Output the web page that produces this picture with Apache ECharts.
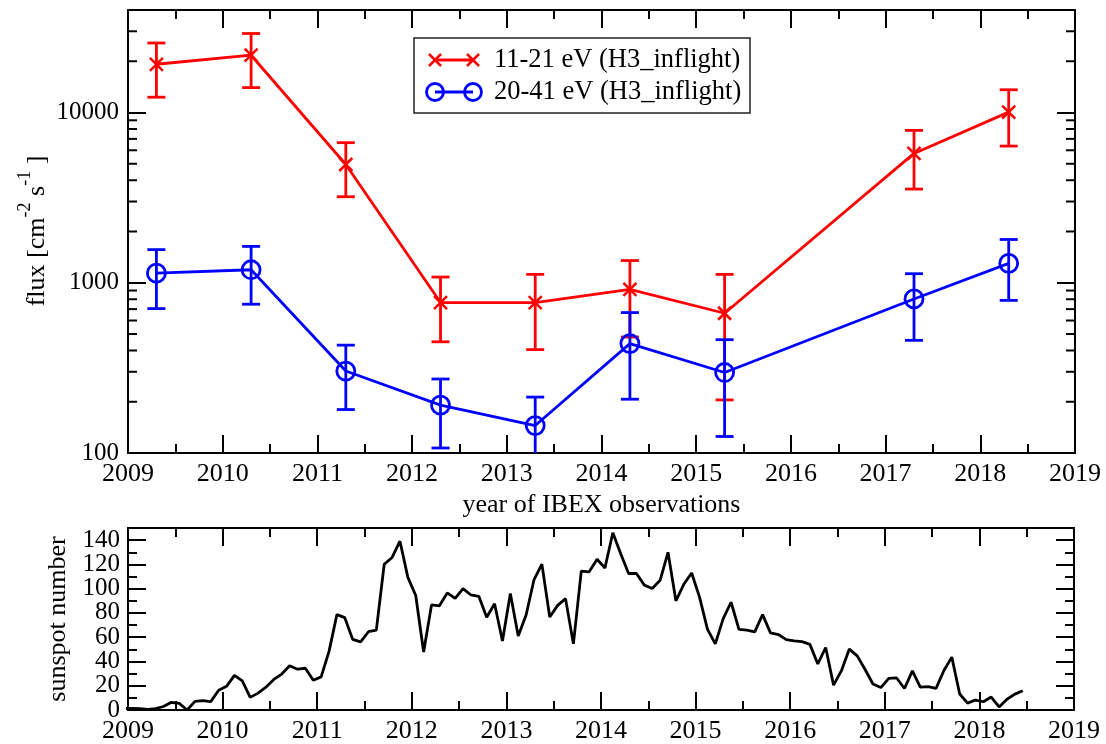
<!DOCTYPE html>
<html><head><meta charset="utf-8">
<script src="https://cdn.jsdelivr.net/npm/echarts@6/dist/echarts.min.js"></script>
<style>html,body{margin:0;padding:0;background:#fff}#c{width:1106px;height:744px}</style>
</head><body><div id="c"></div>
<script>
// ---- data ----
const obsYears  = [2009.3, 2010.3, 2011.3, 2012.3, 2013.3, 2014.3, 2015.3, 2017.3, 2018.3];
const redFlux   = [19200, 21700, 4950, 765, 765, 915, 662, 5750, 10050];
const redLow    = [12300, 14000, 3200, 450, 405, 480, 205, 3550, 6350];
const redHigh   = [25600, 29100, 6650, 1080, 1120, 1350, 1120, 7850, 13600];
const blueFlux  = [1138, 1192, 303, 191, 145, 439, 297, 803, 1300];
const blueLow   = [705, 748, 180, 107, 90, 207, 125, 459, 788];
const blueHigh  = [1565, 1635, 430, 272, 213, 668, 463, 1130, 1795];
const redName   = '11-21 eV (H3_inflight)';
const blueName  = '20-41 eV (H3_inflight)';
// monthly sunspot numbers, Dec 2008 .. Jun 2018 (plotted mid-month)
const sunspotStart = 2008 + 11.5 / 12;
const sunspot = [1.2,
  1.3, 1.2, 0.6, 1.2, 2.9, 6.3, 5.5, 0.0, 7.1, 7.7, 6.9, 16.3,
  19.5, 28.5, 24.0, 10.4, 13.9, 18.8, 25.2, 29.6, 36.4, 33.6, 34.4, 24.5,
  27.3, 48.3, 78.6, 76.1, 58.2, 56.1, 64.5, 65.8, 120.1, 125.7, 139.1, 109.3,
  94.4, 47.8, 86.6, 85.9, 96.5, 92.0, 100.1, 94.8, 93.7, 76.5, 87.6, 56.8,
  96.1, 60.9, 78.3, 107.3, 120.2, 76.7, 86.2, 91.8, 54.5, 114.4, 113.9, 124.2,
  117.0, 146.1, 128.7, 112.5, 112.5, 102.9, 100.2, 106.9, 130.0, 90.0, 103.6, 112.9,
  93.0, 66.7, 54.5, 75.3, 88.8, 66.5, 65.8, 64.4, 78.6, 63.6, 62.2, 58.0,
  57.0, 56.4, 54.1, 37.9, 51.5, 20.5, 32.4, 50.2, 44.6, 33.4, 21.4, 18.5,
  26.1, 26.4, 17.7, 32.3, 18.9, 19.2, 17.8, 32.6, 43.6, 13.2, 5.7, 8.2,
  6.8, 10.7, 2.5, 8.9, 13.1, 15.9];
const yearMin = 2009, yearMax = 2019;
const fluxMin = 100, fluxMax = 40000;
const logDecades = [100, 1000, 10000];
const ssMin = 0, ssMax = 150;

// ---- chart ----
const FONT = 'Liberation Serif';
const RED = '#ff0000', BLUE = '#0000ff';
const chart = echarts.init(document.getElementById('c'));

const logMinor = [];
logDecades.forEach(d => { for (let m = 2; m <= 9; m++) if (d * m < fluxMax) logMinor.push([yearMin, d * m]); });

const lineSt = {color: '#000', width: 2};
function xAx(grid, pos, labels, extra) {
  return Object.assign({
    type: 'value', gridIndex: grid, position: pos, min: yearMin, max: yearMax, interval: 1,
    axisLine: {show: true, onZero: false, lineStyle: lineSt},
    axisTick: {show: true, inside: true, length: 18, lineStyle: lineSt},
    minorTick: {show: true, splitNumber: 2, length: 9, lineStyle: lineSt},
    splitLine: {show: false}, minorSplitLine: {show: false},
    axisLabel: {show: labels, showMinLabel: true, showMaxLabel: true, formatter: v => String(v), color: '#000', fontFamily: FONT, fontSize: 26, margin: 8}
  }, extra || {});
}
function yAxLin(grid, pos, labels, interval, tickLen, extra) {
  return Object.assign({
    type: 'value', gridIndex: grid, position: pos, min: ssMin, max: ssMax, interval: interval,
    axisLine: {show: true, onZero: false, lineStyle: lineSt},
    axisTick: {show: true, inside: true, length: tickLen, lineStyle: lineSt},
    splitLine: {show: false},
    axisLabel: {show: labels, showMinLabel: false, showMaxLabel: false, formatter: v => String(v),
      color: '#000', fontFamily: FONT, fontSize: 25, margin: 8}
  }, extra || {});
}
function yAxLog(pos, labels) {
  return {
    type: 'log', logBase: 10, gridIndex: 0, position: pos, min: fluxMin, max: fluxMax,
    axisLine: {show: true, onZero: false, lineStyle: lineSt},
    axisTick: {show: true, inside: true, length: 18, lineStyle: lineSt},
    minorTick: {show: false}, splitLine: {show: false}, minorSplitLine: {show: false},
    axisLabel: {show: labels, showMinLabel: true, showMaxLabel: false, formatter: v => String(Math.round(v)), color: '#000', fontFamily: FONT, fontSize: 25, margin: 9}
  };
}
function errSeries(color, lows, highs) {
  return {
    type: 'custom', xAxisIndex: 0, yAxisIndex: 0, clip: true, silent: true,
    data: obsYears.map((x, i) => [x, lows[i], highs[i]]),
    encode: {x: 0, y: [1, 2]},
    renderItem(params, api) {
      const x = api.value(0);
      const lo = api.coord([x, api.value(1)]);
      const hi = api.coord([x, api.value(2)]);
      const w = 9, st = {stroke: color, lineWidth: 2.8};
      return {type: 'group', children: [
        {type: 'line', shape: {x1: lo[0], y1: lo[1], x2: hi[0], y2: hi[1]}, style: st},
        {type: 'line', shape: {x1: lo[0] - w, y1: lo[1], x2: lo[0] + w, y2: lo[1]}, style: st},
        {type: 'line', shape: {x1: hi[0] - w, y1: hi[1], x2: hi[0] + w, y2: hi[1]}, style: st}
      ]};
    }
  };
}
function xMark(cx, cy, h, color) {
  return [
    {type: 'line', z: 101, shape: {x1: cx - h, y1: cy - h, x2: cx + h, y2: cy + h}, style: {stroke: color, lineWidth: 2.5}},
    {type: 'line', z: 101, shape: {x1: cx - h, y1: cy + h, x2: cx + h, y2: cy - h}, style: {stroke: color, lineWidth: 2.5}}
  ];
}

const option = {
  animation: false,
  textStyle: {fontFamily: FONT},
  grid: [
    {left: 128, right: 31, top: 10, height: 443},
    {left: 128, right: 32, top: 528, height: 184}
  ],
  xAxis: [
    xAx(0, 'bottom', true, {name: 'year of IBEX observations', nameLocation: 'middle', nameGap: 34,
      nameTextStyle: {color: '#000', fontFamily: FONT, fontSize: 26}}),
    xAx(0, 'top', false),
    xAx(1, 'bottom', true),
    xAx(1, 'top', false)
  ],
  yAxis: [
    yAxLog('left', true),
    yAxLog('right', false),
    yAxLin(1, 'left', true, 20, 18),
    yAxLin(1, 'left', false, 10, 9),
    yAxLin(1, 'right', false, 20, 18),
    yAxLin(1, 'right', false, 10, 9),
    // carries only the "0" label at the axis minimum
    yAxLin(1, 'left', true, ssMax - ssMin, 0, {
      axisLine: {show: false}, axisTick: {show: false},
      axisLabel: {show: true, showMinLabel: true, showMaxLabel: false, formatter: v => String(v),
        color: '#000', fontFamily: FONT, fontSize: 25, margin: 8}
    })
  ],
  graphic: [
    {type: 'text', x: 33, y: 231, rotation: Math.PI / 2, style: {
      text: '{a|flux [cm}{s|-2}{a| s}{s|-1}{a| ]}', align: 'center', verticalAlign: 'middle',
      rich: {
        a: {fontSize: 26, fontFamily: FONT, fill: '#000', lineHeight: 34, verticalAlign: 'bottom'},
        s: {fontSize: 18, fontFamily: FONT, fill: '#000', lineHeight: 16, verticalAlign: 'top'}
      }}},
    {type: 'text', x: 58, y: 619, rotation: Math.PI / 2, style: {
      text: 'sunspot number', align: 'center', verticalAlign: 'middle', fontSize: 26, fontFamily: FONT, fill: '#000'}},
    {type: 'rect', z: 100, shape: {x: 414, y: 38, width: 336, height: 75}, style: {fill: '#fff', stroke: '#222', lineWidth: 1.5}},
    {type: 'line', z: 101, shape: {x1: 435, y1: 60, x2: 473, y2: 60}, style: {stroke: RED, lineWidth: 2.8}},
    ...xMark(435, 60, 6, RED), ...xMark(473, 60, 6, RED),
    {type: 'line', z: 101, shape: {x1: 435, y1: 92, x2: 473, y2: 92}, style: {stroke: BLUE, lineWidth: 2.8}},
    {type: 'circle', z: 101, shape: {cx: 435, cy: 92, r: 8.5}, style: {fill: 'none', stroke: BLUE, lineWidth: 2.8}},
    {type: 'circle', z: 101, shape: {cx: 473, cy: 92, r: 8.5}, style: {fill: 'none', stroke: BLUE, lineWidth: 2.8}},
    {type: 'text', z: 101, x: 494, y: 60, style: {text: redName, align: 'left', verticalAlign: 'middle', fontSize: 26.5, fontFamily: FONT, fill: '#000'}},
    {type: 'text', z: 101, x: 494, y: 92, style: {text: blueName, align: 'left', verticalAlign: 'middle', fontSize: 26.5, fontFamily: FONT, fill: '#000'}}
  ],
  series: [
    {
      type: 'custom', xAxisIndex: 0, yAxisIndex: 0, silent: true, data: logMinor, encode: {x: 0, y: 1},
      renderItem(params, api) {
        const y = api.coord([api.value(0), api.value(1)])[1];
        const x0 = params.coordSys.x, x1 = x0 + params.coordSys.width;
        const st = {stroke: '#000', lineWidth: 2};
        return {type: 'group', children: [
          {type: 'line', shape: {x1: x0, y1: y, x2: x0 + 9, y2: y}, style: st},
          {type: 'line', shape: {x1: x1 - 9, y1: y, x2: x1, y2: y}, style: st}
        ]};
      }
    },
    {
      name: redName, type: 'line', xAxisIndex: 0, yAxisIndex: 0, silent: true,
      data: obsYears.map((x, i) => [x, redFlux[i]]),
      symbol: 'path://M0 0L10 10M10 0L0 10', symbolSize: 13, symbolKeepAspect: true,
      itemStyle: {color: 'none', borderColor: RED, borderWidth: 2.5},
      lineStyle: {color: RED, width: 2.8}
    },
    errSeries(RED, redLow, redHigh),
    {
      name: blueName, type: 'line', xAxisIndex: 0, yAxisIndex: 0, silent: true,
      data: obsYears.map((x, i) => [x, blueFlux[i]]),
      symbol: 'circle', symbolSize: 18,
      itemStyle: {color: 'rgba(0,0,0,0)', borderColor: BLUE, borderWidth: 2.8},
      lineStyle: {color: BLUE, width: 2.8}
    },
    errSeries(BLUE, blueLow, blueHigh),
    {
      name: 'sunspot', type: 'line', xAxisIndex: 2, yAxisIndex: 2, silent: true, clip: true,
      data: sunspot.map((v, i) => [sunspotStart + i / 12, v]),
      showSymbol: false, symbol: 'none',
      lineStyle: {color: '#000', width: 2.8}
    }
  ]
};
chart.setOption(option);
</script></body></html>
